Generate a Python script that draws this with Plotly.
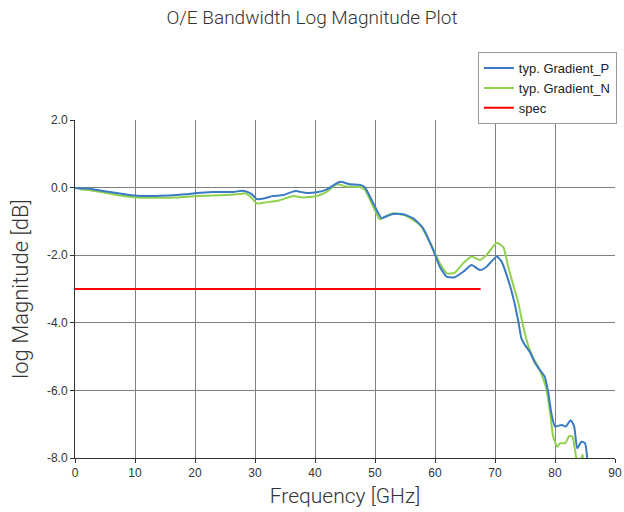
import plotly.graph_objects as go

freq_p = [0, 0.8, 1.5, 3, 4, 5.8, 8, 10.3, 12, 14.2, 16.9, 18.5, 20.3, 23, 25, 26.4, 27.8, 28.6, 29.5, 30.3,
          31.5, 33, 34.7, 36.7, 38.6, 40.3, 42, 43.2, 44.2, 45.8, 47.5, 48.3, 49.7, 51.1, 51.6, 53, 54.7,
          56.4, 58, 59.7, 60.8, 62, 63.3, 64.7, 66.1, 67.5, 68.6, 70.3, 71.1, 72.2, 73.1, 73.9, 74.4, 75,
          75.8, 76.7, 77.5, 78.3, 78.9, 79.4, 80, 81.1, 81.8, 82.6, 83.2, 83.7, 84.4, 85, 85.5]
mag_p = [0.0, -0.03, -0.02, -0.05, -0.08, -0.13, -0.19, -0.24, -0.25, -0.24, -0.22, -0.2, -0.16, -0.13, -0.13,
         -0.13, -0.09, -0.12, -0.2, -0.34, -0.32, -0.25, -0.22, -0.1, -0.16, -0.14, -0.05, 0.08, 0.17, 0.1,
         0.08, 0.01, -0.46, -0.91, -0.87, -0.78, -0.79, -0.91, -1.2, -1.85, -2.34, -2.64, -2.65, -2.49,
         -2.29, -2.44, -2.34, -2.04, -2.19, -2.73, -3.3, -3.97, -4.46, -4.66, -4.86, -5.2, -5.4, -5.6,
         -6.09, -6.68, -7.07, -7.02, -7.07, -6.88, -7.07, -7.71, -7.52, -7.56, -8.3]

freq_n = [0.8, 3, 5, 7, 10.3, 14, 17, 20.3, 24, 27.5, 28.3, 29.3, 30.3, 32, 34, 36.4, 37.9, 40.3, 42, 43.6,
          45.3, 47.5, 48.3, 49.7, 50.8, 51.7, 53, 55, 57.5, 59.4, 60.8, 62, 63.3, 64.7, 66.1, 67.5, 68.6,
          70.3, 71.4, 72.2, 72.8, 73.9, 74.7, 75.6, 76.4, 77.2, 78.1, 78.6, 79.2, 79.7, 80.4, 80.8, 81.7,
          82.4, 82.9, 83.5, 84.0, 84.6, 85.0]
mag_n = [-0.05, -0.09, -0.15, -0.22, -0.29, -0.3, -0.29, -0.25, -0.23, -0.19, -0.17, -0.28, -0.47, -0.43,
         -0.38, -0.25, -0.29, -0.25, -0.12, 0.1, 0.03, 0.02, -0.06, -0.56, -0.94, -0.86, -0.76, -0.82, -1.1,
         -1.7, -2.24, -2.54, -2.52, -2.24, -2.04, -2.14, -1.99, -1.63, -1.77, -2.34, -2.73, -3.42, -4.11,
         -4.71, -5.05, -5.3, -5.69, -5.99, -6.68, -7.37, -7.67, -7.57, -7.56, -7.35, -7.37, -7.95, -8.3,
         -7.9, -8.5]

spec_freq = [0, 67.6]
spec_mag = [-3.0, -3.0]

x_ticks = [0, 10, 20, 30, 40, 50, 60, 70, 80, 90]
y_ticks = [2.0, 0.0, -2.0, -4.0, -6.0, -8.0]

fig = go.Figure()
# green first so the blue curve is drawn on top; legend order set by legendrank
fig.add_trace(go.Scatter(x=freq_n, y=mag_n, mode="lines", name="typ. Gradient_N", legendrank=2,
                         line=dict(color="#8fd14f", width=2, shape="spline", smoothing=0.5)))
fig.add_trace(go.Scatter(x=freq_p, y=mag_p, mode="lines", name="typ. Gradient_P", legendrank=1,
                         line=dict(color="#3b7bc4", width=2, shape="spline", smoothing=0.5)))
fig.add_trace(go.Scatter(x=spec_freq, y=spec_mag, mode="lines", name="spec", legendrank=3,
                         line=dict(color="#ff0000", width=2)))

fig.update_layout(
    width=624, height=512,
    margin=dict(l=75, r=9, t=120, b=54, autoexpand=False),
    paper_bgcolor="white", plot_bgcolor="white",
    title=dict(text="O/E Bandwidth Log Magnitude Plot", x=0.5, xref="container", xanchor="center",
               y=0.966, yref="container", yanchor="middle",
               font=dict(family="Roboto", size=19, color="#333333", weight=300)),
    legend=dict(x=0.746, y=1.201, xanchor="left", yanchor="top",
                bordercolor="#999999", borderwidth=1, bgcolor="white",
                font=dict(family="Liberation Sans", size=13, color="#222222"),
                itemwidth=30),
    showlegend=True,
)
fig.update_xaxes(range=[0, 90], tickvals=x_ticks, ticktext=[str(v) for v in x_ticks],
                 showgrid=True, gridcolor="#808080", gridwidth=1,
                 showline=True, linecolor="#333333", linewidth=1,
                 ticks="outside", ticklen=4, tickcolor="#333333",
                 tickfont=dict(family="Liberation Sans", size=12, color="#333333"),
                 ticklabeloverflow="allow",
                 zeroline=False, automargin=False,
                 title=dict(text="Frequency [GHz]", standoff=8,
                            font=dict(family="Roboto", size=21, color="#333333", weight=300)))
fig.update_yaxes(range=[-8, 2], tickvals=y_ticks, ticktext=[f"{v:.1f}" for v in y_ticks],
                 showgrid=True, gridcolor="#808080", gridwidth=1,
                 showline=True, linecolor="#333333", linewidth=1,
                 ticks="outside", ticklen=4, tickcolor="#333333",
                 tickfont=dict(family="Liberation Sans", size=12, color="#333333"),
                 zeroline=False, automargin=False,
                 title=dict(text="log Magnitude [dB]", standoff=12,
                            font=dict(family="Roboto", size=22, color="#333333", weight=300)))

# remove the browser's default 8px body margin so the 624x512 figure fills the window exactly
fig.write_html("out.html", config={"displayModeBar": False},
               post_script="document.body.style.margin='0px';document.body.style.overflow='hidden';")
